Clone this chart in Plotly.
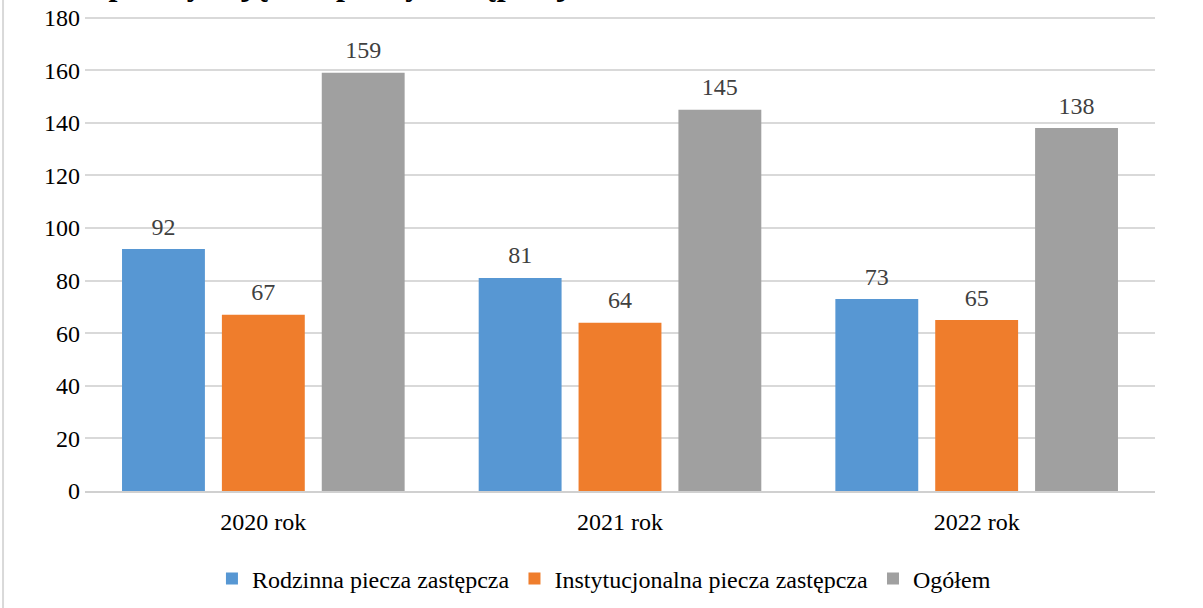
import plotly.graph_objects as go

categories = ["2020 rok", "2021 rok", "2022 rok"]
rodzinna = [92, 81, 73]
instytucjonalna = [67, 64, 65]
ogolem = [159, 145, 138]
series_names = ["Rodzinna piecza zastępcza", "Instytucjonalna piecza zastępcza", "Ogółem"]
y_ticks = [0, 20, 40, 60, 80, 100, 120, 140, 160, 180]
title_text = "Dzieci przebywające w pieczy zastępczej w latach 2020-2022"

colors = ["#5797D3", "#EF7D2C", "#A0A0A0"]
FONT = "Liberation Serif"
BARGAP = 0.16

fig = go.Figure()
all_vals = [rodzinna, instytucjonalna, ogolem]
for i, (name, vals, col) in enumerate(zip(series_names, all_vals, colors)):
    fig.add_trace(go.Bar(
        x=categories, y=vals, name=name,
        marker=dict(color=col, line=dict(width=0)),
        offsetgroup=str(i),
    ))
for i, vals in enumerate(all_vals):
    fig.add_trace(go.Scatter(
        x=categories, y=vals, mode="markers+text",
        text=[str(v) for v in vals], textposition="top center",
        textfont=dict(family=FONT, size=24, color="#404040"),
        marker=dict(size=12, color="rgba(0,0,0,0)"),
        offsetgroup=str(i), showlegend=False, hoverinfo="skip",
        cliponaxis=False,
    ))

fig.update_layout(
    width=1203, height=608,
    margin=dict(l=85, r=48, t=16, b=117, autoexpand=False),
    paper_bgcolor="white", plot_bgcolor="white",
    barmode="group", bargap=BARGAP, bargroupgap=0.17,
    scattermode="group", scattergap=BARGAP,
    font=dict(family=FONT, size=24, color="#000000"),
    showlegend=True,
    legend=dict(orientation="h", x=0.485, xanchor="center", y=-0.185, yanchor="middle",
                font=dict(family=FONT, size=24, color="#000000"),
                itemwidth=30, traceorder="normal"),
    xaxis=dict(showgrid=False, showline=True, linecolor="#D0D0D0", linewidth=1.5,
               ticks="", automargin=False, ticklabelstandoff=8,
               tickfont=dict(family=FONT, size=24, color="#000000")),
    yaxis=dict(range=[0, 180.6], tickvals=y_ticks, showgrid=True, gridcolor="#D9D9D9",
               gridwidth=1.5, zeroline=False, showline=False, ticks="", automargin=False,
               ticklabeloverflow="allow",
               tickfont=dict(family=FONT, size=24, color="#000000"), ticklabelstandoff=4),
    annotations=[dict(text="<b>" + title_text + "</b>", xref="paper", yref="paper",
                      x=-0.0654, y=1.0253, xanchor="left", yanchor="bottom",
                      showarrow=False, font=dict(family=FONT, size=32, color="#000000"))],
    shapes=[dict(type="line", xref="paper", yref="paper", x0=-0.0766, x1=-0.0766,
                 y0=-0.3, y1=1.1, line=dict(color="#D9D9D9", width=2))],
)

fig.write_html("out.html", config={"displayModeBar": False},
               post_script="document.body.style.margin='0px';")
